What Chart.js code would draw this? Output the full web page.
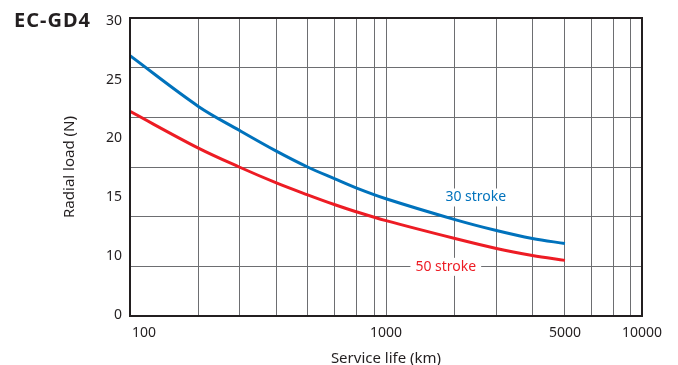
<!DOCTYPE html>
<html>
<head>
<meta charset="utf-8">
<script src="https://cdn.jsdelivr.net/npm/chart.js@4.4.1/dist/chart.umd.min.js"></script>
<style>
  body { margin: 0; background: #fff; }
  #wrap { position: relative; width: 678px; height: 365px; overflow: hidden; }
  #title { position: absolute; left: 14px; top: 10px; font: bold 20px 'Noto Sans', sans-serif; line-height: 20px; letter-spacing: 1px; color: #231f20; }
</style>
</head>
<body>
<div id="wrap">
  <canvas id="loadChart" width="678" height="365"></canvas>
  <div id="title">EC-GD4</div>
</div>
<script>
const serviceLifeKm = [100, 185, 267, 373, 494, 632, 764, 1000, 1860, 2700, 3730, 5000];
const stroke30Load = [26.2, 21.1, 18.7, 16.6, 15.0, 13.8, 12.9, 11.8, 9.7, 8.6, 7.8, 7.3];
const stroke50Load = [20.6, 16.9, 15.0, 13.4, 12.2, 11.2, 10.5, 9.6, 7.8, 6.8, 6.1, 5.6];
const seriesNames = ['30 stroke', '50 stroke'];

// the printed grid is not quite logarithmic, so the lines are listed
const gridKm = [100, 185, 267, 373, 494, 632, 764, 903, 1000, 1860, 2700, 3730, 5000, 6340, 7720, 9030, 10000];
const xTickLabels = [100, 1000, 5000, 10000];
const yTickLabels = ['0', '10', '15', '20', '25', '30'];

const ink = '#231f20';
const gridGrey = '#6d6e71';
const colors = ['#0072bc', '#ed1c24'];

// where the series names sit, in data units
const notes = [
  { text: seriesNames[0], km: 2243, load: 11.93, color: colors[0] },
  { text: seriesNames[1], km: 1712, load: 4.95, color: colors[1] }
];

const framePlugin = {
  id: 'frame',
  afterDatasetsDraw(chart) {
    const { ctx, chartArea: a, scales } = chart;
    ctx.save();
    ctx.font = '14px "Noto Sans", sans-serif';
    ctx.textAlign = 'center';
    ctx.textBaseline = 'middle';
    notes.forEach(n => {
      const x = scales.x.getPixelForValue(n.km);
      const y = scales.y.getPixelForValue(n.load);
      const w = ctx.measureText(n.text).width + 10;
      ctx.fillStyle = '#fff';
      ctx.fillRect(x - w / 2, y - 9, w, 18);
      ctx.fillStyle = n.color;
      ctx.fillText(n.text, x, y);
    });
    ctx.strokeStyle = ink;
    ctx.lineWidth = 2;
    ctx.strokeRect(a.left, a.top, a.right - a.left, a.bottom - a.top);
    ctx.restore();
  }
};

function makeSeries(values) {
  return serviceLifeKm.map((km, i) => ({ x: km, y: values[i] }));
}

new Chart(document.getElementById('loadChart'), {
  type: 'line',
  data: {
    datasets: [
      {
        label: seriesNames[0],
        data: makeSeries(stroke30Load),
        borderColor: colors[0],
        borderWidth: 3,
        pointRadius: 0,
        tension: 0.35,
        yAxisID: 'y'
      },
      {
        label: seriesNames[1],
        data: makeSeries(stroke50Load),
        borderColor: colors[1],
        borderWidth: 3,
        pointRadius: 0,
        tension: 0.35,
        yAxisID: 'y'
      }
    ]
  },
  options: {
    responsive: false,
    animation: false,
    layout: { padding: { top: 18, right: 36, left: 0, bottom: 0 } },
    plugins: { legend: { display: false }, tooltip: { enabled: false } },
    scales: {
      x: {
        type: 'logarithmic',
        min: 100,
        max: 10000,
        afterBuildTicks: s => { s.ticks = gridKm.map(v => ({ value: v })); },
        afterFit: s => { s.height = 49; },
        grid: { color: gridGrey, lineWidth: 1, drawTicks: false },
        border: { display: false },
        ticks: {
          autoSkip: false,
          maxRotation: 0,
          padding: 9,
          color: ink,
          font: { family: 'Noto Sans', size: 14 },
          callback: v => {
            if (!xTickLabels.includes(v)) return '';
            return v === 100 ? '\u2003\u2003100' : String(v);
          }
        },
        title: {
          display: true,
          text: 'Service life (km)',
          color: ink,
          font: { family: 'Noto Sans', size: 15, lineHeight: 1 },
          padding: { top: 0, bottom: -1 }
        }
      },
      y: {
        position: 'left',
        weight: 0,
        min: 0,
        max: 30,
        afterFit: s => { s.width = 0; },
        grid: { color: gridGrey, lineWidth: 1, drawTicks: false },
        border: { display: false },
        ticks: { display: false, stepSize: 5 }
      },
      yl: {
        position: 'left',
        weight: 1,
        min: -0.02,
        max: 5.05,
        afterBuildTicks: s => { s.ticks = yTickLabels.map((t, i) => ({ value: i })); },
        afterFit: s => { s.width = 130; },
        grid: { display: false, drawTicks: false },
        border: { display: false },
        ticks: {
          padding: 8,
          color: ink,
          font: { family: 'Noto Sans', size: 14 },
          callback: (v, i) => yTickLabels[i]
        },
        title: {
          display: true,
          text: 'Radial load (N)',
          color: ink,
          font: { family: 'Noto Sans', size: 15, lineHeight: 1 },
          padding: { top: 62, bottom: 0 }
        }
      }
    }
  },
  plugins: [framePlugin]
});
</script>
</body>
</html>
